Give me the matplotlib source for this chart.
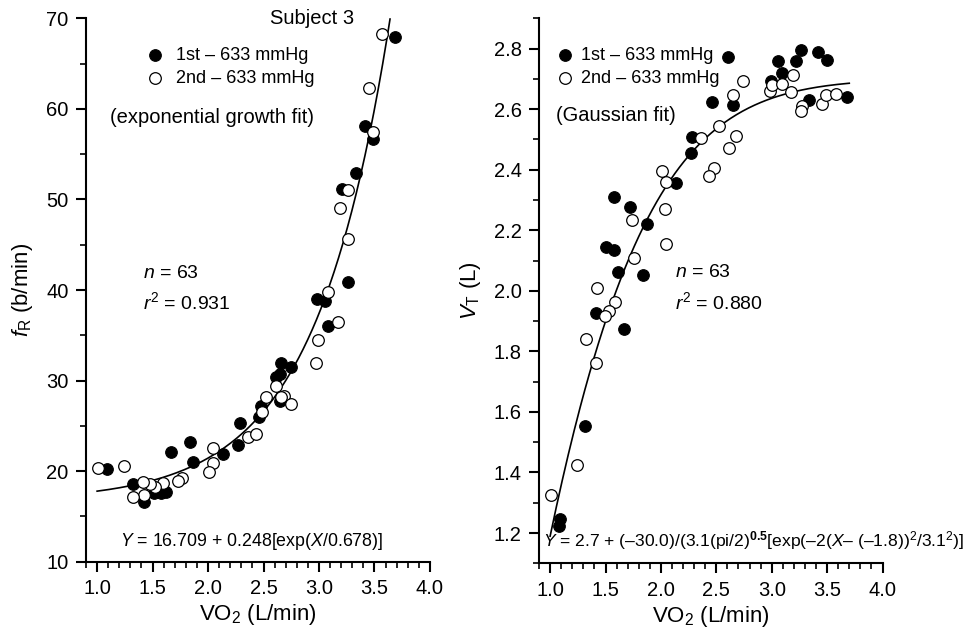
import numpy as np
import matplotlib

matplotlib.use('Agg')
import matplotlib.pyplot as plt
from matplotlib.ticker import MultipleLocator

plt.rcParams['font.family'] = ['Liberation Sans', 'DejaVu Sans']
plt.rcParams['mathtext.fontset'] = 'custom'
plt.rcParams['mathtext.rm'] = 'Liberation Sans'
plt.rcParams['mathtext.it'] = 'Liberation Sans:italic'
plt.rcParams['mathtext.bf'] = 'Liberation Sans:bold'

# ============================================================
# data
# ============================================================
# left panel: breathing frequency fR (b/min) vs VO2 (L/min)
fr_first_x = [3.685, 3.415, 3.49, 3.334, 3.21, 3.26, 2.985, 3.055, 3.085, 2.659,
              2.749, 2.608, 2.644, 2.644, 2.479, 2.455, 2.29, 2.269, 2.131, 1.834,
              1.864, 1.669, 1.09, 1.32, 1.42, 1.51, 1.579, 1.62]
fr_first_y = [67.9, 58.1, 56.7, 52.9, 51.2, 40.9, 39.0, 38.8, 36.0, 31.9,
              31.5, 30.4, 30.7, 27.7, 27.2, 26.0, 25.3, 22.9, 21.9, 23.2,
              21.0, 22.1, 20.2, 18.6, 16.6, 17.6, 17.6, 17.7]
fr_second_x = [3.571, 3.448, 3.484, 3.259, 3.187, 3.265, 3.085, 3.169, 2.995, 2.974,
               2.614, 2.68, 2.656, 2.746, 2.524, 2.485, 2.359, 2.434, 2.044, 2.044,
               2.005, 1.765, 1.729, 1.59, 1.525, 1.48, 1.414, 1.42, 1.32, 1.246,
               1.005]
fr_second_y = [68.3, 62.3, 57.4, 51.0, 49.1, 45.6, 39.8, 36.5, 34.5, 32.0,
               29.4, 28.3, 28.2, 27.4, 28.2, 26.5, 23.8, 24.1, 22.6, 20.9,
               19.9, 19.3, 18.9, 18.7, 18.3, 18.6, 18.8, 17.4, 17.2, 20.6,
               20.3]

# right panel: tidal volume VT (L) vs VO2 (L/min)
vt_first_x = [2.602, 3.053, 3.095, 3.218, 3.26, 3.414, 3.495, 2.993, 3.338, 3.684,
              2.458, 2.653, 2.283, 2.269, 2.133, 1.872, 1.721, 1.58, 1.502, 1.577,
              1.616, 1.836, 1.415, 1.67, 1.316, 1.09, 1.084]
vt_first_y = [2.773, 2.758, 2.718, 2.758, 2.797, 2.789, 2.764, 2.692, 2.631, 2.640,
              2.624, 2.615, 2.507, 2.455, 2.356, 2.220, 2.276, 2.311, 2.146, 2.135,
              2.063, 2.052, 1.927, 1.873, 1.553, 1.246, 1.222]
vt_second_x = [2.743, 2.647, 2.984, 2.999, 3.09, 3.195, 3.171, 3.27, 3.261, 3.45,
               3.486, 3.576, 2.524, 2.362, 2.677, 2.614, 2.482, 2.434, 2.007, 2.043,
               2.037, 2.043, 1.737, 1.76, 1.421, 1.586, 1.533, 1.496, 1.322, 1.415,
               1.246, 1.009]
vt_second_y = [2.694, 2.646, 2.659, 2.679, 2.683, 2.714, 2.657, 2.612, 2.595, 2.617,
               2.646, 2.650, 2.546, 2.505, 2.512, 2.472, 2.405, 2.380, 2.396, 2.358,
               2.270, 2.155, 2.234, 2.109, 2.011, 1.962, 1.933, 1.917, 1.842, 1.762,
               1.425, 1.326]

# fit parameters as printed on the figure
exp_y0, exp_a, exp_t = 16.709, 0.248, 0.678
exp_x_range = (1.0, 3.64)
gau_y0, gau_a, gau_w, gau_xc = 2.7, -30.0, 3.1, -1.8
gau_x_range = (1.0, 3.7)

label_first = '1st – 633 mmHg'
label_second = '2nd – 633 mmHg'

# ============================================================
# figure
# ============================================================
fig = plt.figure(figsize=(9.73, 6.34), dpi=100)
ax1 = fig.add_axes([0.0884, 0.114, 0.3535, 0.857])
ax2 = fig.add_axes([0.554, 0.1115, 0.353, 0.8595])

msize = 70
tick_fs = 14.5
label_fs = 16


def style_axes(ax):
    for side in ['top', 'right']:
        ax.spines[side].set_visible(False)
    for side in ['left', 'bottom']:
        ax.spines[side].set_linewidth(1.5)
    ax.tick_params(which='major', direction='out', length=7.5, width=1.5,
                   labelsize=tick_fs, pad=5)
    ax.tick_params(which='minor', direction='out', length=4.5, width=1.2)
    ax.xaxis.set_major_locator(MultipleLocator(0.5))
    ax.xaxis.set_minor_locator(MultipleLocator(0.1))
    ax.xaxis.set_major_formatter(plt.FormatStrFormatter('%.1f'))
    ax.set_xlim(0.9, 4.0)
    ax.set_xlabel('VO$_2$ (L/min)', fontsize=label_fs, labelpad=3)


# ---------------- left panel ----------------
ax1.scatter(fr_first_x, fr_first_y, s=msize, c='black', edgecolors='black',
            linewidths=0.8, label=label_first, zorder=3)
ax1.scatter(fr_second_x, fr_second_y, s=msize, facecolors='white', edgecolors='black',
            linewidths=0.9, label=label_second, zorder=3)
xf = np.linspace(exp_x_range[0], exp_x_range[1], 200)
ax1.plot(xf, exp_y0 + exp_a * np.exp(xf / exp_t), color='black', lw=1.2, zorder=2)

style_axes(ax1)
ax1.set_ylim(10, 70)
ax1.yaxis.set_major_locator(MultipleLocator(10))
ax1.yaxis.set_minor_locator(MultipleLocator(5))
ax1.set_ylabel('$f_\\mathrm{R}$ (b/min)', fontsize=label_fs, labelpad=8)

ax1.legend(loc='upper left', bbox_to_anchor=(0.173, 0.948), frameon=False,
           fontsize=13, borderpad=0, borderaxespad=0, handlelength=1.0,
           handletextpad=0.7, labelspacing=0.33)
ax1.text(0.656, 1.0, 'Subject 3', transform=ax1.transAxes, fontsize=14.5,
         ha='center', va='center')
ax1.text(0.07, 0.817, '(exponential growth fit)', transform=ax1.transAxes,
         fontsize=14.5, ha='left', va='center')
ax1.text(0.166, 0.531, '$n$ = 63', transform=ax1.transAxes, fontsize=14,
         ha='left', va='center')
ax1.text(0.166, 0.478, '$r^2$ = 0.931', transform=ax1.transAxes, fontsize=14,
         ha='left', va='center')
ax1.text(0.099, 0.037, '$Y$ = 16.709 + 0.248[exp($X$/0.678)]', transform=ax1.transAxes,
         fontsize=12.8, ha='left', va='center')

# ---------------- right panel ----------------
ax2.scatter(vt_first_x, vt_first_y, s=msize, c='black', edgecolors='black',
            linewidths=0.8, label=label_first, zorder=3)
ax2.scatter(vt_second_x, vt_second_y, s=msize, facecolors='white', edgecolors='black',
            linewidths=0.9, label=label_second, zorder=3)
xg = np.linspace(gau_x_range[0], gau_x_range[1], 200)
yg = gau_y0 + gau_a / (gau_w * np.sqrt(np.pi / 2)) * np.exp(-2 * (xg - gau_xc) ** 2 / gau_w ** 2)
ax2.plot(xg, yg, color='black', lw=1.2, zorder=2)

style_axes(ax2)
ax2.set_ylim(1.1, 2.9)
ax2.yaxis.set_major_locator(MultipleLocator(0.2))
ax2.yaxis.set_minor_locator(MultipleLocator(0.1))
ax2.yaxis.set_major_formatter(plt.FormatStrFormatter('%.1f'))
ax2.set_ylabel('$V_\\mathrm{T}$ (L)', fontsize=label_fs, labelpad=8)

ax2.legend(loc='upper left', bbox_to_anchor=(0.05, 0.948), frameon=False,
           fontsize=13, borderpad=0, borderaxespad=0, handlelength=1.0,
           handletextpad=0.35, labelspacing=0.33)
ax2.text(0.049, 0.821, '(Gaussian fit)', transform=ax2.transAxes,
         fontsize=14.5, ha='left', va='center')
ax2.text(0.395, 0.533, '$n$ = 63', transform=ax2.transAxes, fontsize=14,
         ha='left', va='center')
ax2.text(0.395, 0.479, '$r^2$ = 0.880', transform=ax2.transAxes, fontsize=14,
         ha='left', va='center')
ax2.text(0.012, 0.0415,
         '$Y$ = 2.7 + (–30.0)/(3.1(pi/2)$^{\\mathbf{0.5}}$[exp(–2($X$– (–1.8))$^2$/3.1$^2$)]',
         transform=ax2.transAxes, fontsize=12.6, ha='left', va='center', clip_on=False)

plt.savefig('out.png', dpi=100)
